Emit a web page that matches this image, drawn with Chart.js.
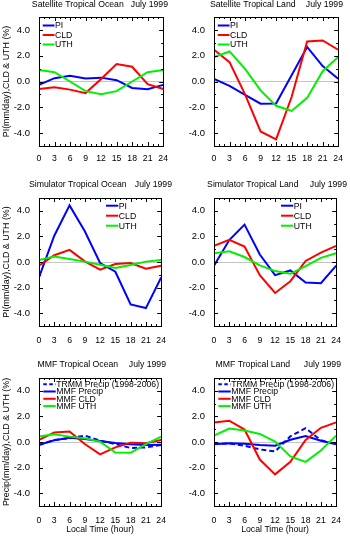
<!DOCTYPE html>
<html>
<head>
<meta charset="utf-8">
<script src="https://cdn.jsdelivr.net/npm/chart.js@4.4.1/dist/chart.umd.min.js"></script>
<style>
  html, body { margin: 0; padding: 0; background: #fff; }
  #wrap { position: relative; width: 350px; height: 537px; overflow: hidden; }
  #wrap canvas { position: absolute; }
</style>
</head>
<body>
<div id="wrap">
  <canvas id="p1" width="175" height="175" style="left:0;top:0"></canvas>
  <canvas id="p2" width="175" height="175" style="left:175px;top:0"></canvas>
  <canvas id="p3" width="175" height="180" style="left:0;top:175px"></canvas>
  <canvas id="p4" width="175" height="180" style="left:175px;top:175px"></canvas>
  <canvas id="p5" width="175" height="182" style="left:0;top:355px"></canvas>
  <canvas id="p6" width="175" height="182" style="left:175px;top:355px"></canvas>
</div>
<script>
// local time (hour)
const hours = [0, 3, 6, 9, 12, 15, 18, 21, 24];
const yTickValues = [-4, -2, 0, 2, 4];

// Satellite
const satOceanPI = [-0.26, 0.26, 0.45, 0.24, 0.3, 0.1, -0.5, -0.6, -0.26];
const satOceanCLD = [-0.58, -0.45, -0.63, -0.9, 0.2, 1.35, 1.14, -0.2, -0.58];
const satOceanUTH = [0.9, 0.72, 0.0, -0.75, -0.98, -0.75, 0.0, 0.72, 0.9];

const satLandPI = [0.21, -0.34, -1.03, -1.72, -1.7, 0.48, 2.68, 1.2, 0.21];
const satLandCLD = [2.46, 1.5, -1.0, -3.87, -4.48, -1.2, 3.1, 3.18, 2.46];
const satLandUTH = [1.9, 2.33, 0.98, -0.69, -1.88, -2.28, -1.27, 0.8, 1.9];

// Simulator
const simOceanPI = [-1.21, 2.05, 4.42, 2.4, -0.08, -0.76, -3.32, -3.6, -1.21];
const simOceanCLD = [-0.29, 0.53, 0.95, 0.05, -0.6, -0.16, -0.08, -0.53, -0.29];
const simOceanUTH = [0.16, 0.42, 0.24, 0.03, -0.21, -0.47, -0.24, 0.03, 0.16];

const simLandPI = [-0.29, 1.71, 2.92, 0.58, -1.03, -0.66, -1.6, -1.66, -0.29];
const simLandCLD = [1.26, 1.74, 1.21, -1.03, -2.42, -1.5, 0.08, 0.74, 1.26];
const simLandUTH = [0.68, 0.84, 0.39, -0.26, -0.71, -0.92, -0.32, 0.32, 0.68];

// MMF
const mmfOceanTRMM = [-0.24, 0.16, 0.29, 0.5, 0.1, -0.16, -0.47, -0.42, -0.24];
const mmfOceanPrecip = [-0.21, 0.13, 0.34, 0.24, 0.08, -0.08, -0.18, -0.24, -0.21];
const mmfOceanCLD = [0.16, 0.74, 0.82, -0.16, -0.97, -0.42, -0.05, -0.1, 0.16];
const mmfOceanUTH = [0.42, 0.6, 0.42, 0.29, 0.03, -0.82, -0.84, -0.16, 0.42];

const mmfLandTRMM = [-0.16, -0.1, -0.29, -0.58, -0.74, 0.45, 1.08, 0.13, -0.16];
const mmfLandPrecip = [-0.18, -0.1, -0.13, -0.24, -0.29, 0.18, 0.47, 0.1, -0.18];
const mmfLandCLD = [1.53, 1.66, 0.97, -1.37, -2.53, -1.55, 0.16, 1.11, 1.53];
const mmfLandUTH = [0.5, 1.05, 0.89, 0.63, 0.03, -1.13, -1.55, -0.66, 0.5];

const FONT = '"Liberation Sans", Arial, Helvetica, sans-serif';
const BLUE = '#0000ff';
const RED = '#ff0000';
const GREEN = '#00f000';

Chart.defaults.font.family = FONT;
Chart.defaults.color = '#000';

// NCL-style frame with inward tick marks
const frameTicks = {
  id: 'frameTicks',
  afterDatasetsDraw(chart) {
    const { ctx, chartArea: a, scales: { x, y } } = chart;
    ctx.save();
    ctx.strokeStyle = '#000';
    ctx.lineWidth = 1;
    ctx.beginPath();
    for (let h = 0; h <= 24; h++) {
      const px = Math.round(x.getPixelForValue(h)) + 0.5;
      const len = h % 3 === 0 ? 4 : 2;
      ctx.moveTo(px, a.bottom); ctx.lineTo(px, a.bottom - len);
      ctx.moveTo(px, a.top); ctx.lineTo(px, a.top + len);
    }
    for (let v = -5; v <= 5; v++) {
      const py = Math.round(y.getPixelForValue(v)) + 0.5;
      const len = v % 2 === 0 ? 4 : 2;
      ctx.moveTo(a.left, py); ctx.lineTo(a.left + len, py);
      ctx.moveTo(a.right, py); ctx.lineTo(a.right - len, py);
    }
    ctx.stroke();
    ctx.strokeRect(Math.round(a.left) + 0.5, Math.round(a.top) + 0.5,
      Math.round(a.right - a.left), Math.round(a.bottom - a.top));
    ctx.restore();
  },
};

const panelText = {
  id: 'panelText',
  afterDraw(chart, args, opts) {
    const { ctx } = chart;
    ctx.save();
    ctx.fillStyle = '#000';
    ctx.font = `8.7px ${FONT}`;
    ctx.textBaseline = 'middle';
    ctx.textAlign = 'center';
    ctx.fillText(opts.title, opts.titleX, opts.titleY);
    ctx.textAlign = 'right';
    ctx.fillText(opts.date, opts.dateRight, opts.titleY);

    // legend
    const lg = opts.legend;
    ctx.textAlign = 'left';
    chart.data.datasets.forEach((ds, i) => {
      const ly = lg.y + i * lg.dy;
      ctx.strokeStyle = ds.borderColor;
      ctx.lineWidth = 2;
      ctx.setLineDash(ds.borderDash ? [3.5, 2.5] : []);
      ctx.beginPath();
      ctx.moveTo(lg.x0, ly);
      ctx.lineTo(lg.x1, ly);
      ctx.stroke();
      ctx.fillText(ds.label, lg.x1 + 0.5, ly + 0.5);
    });
    ctx.restore();
  },
};

function series(label, values, color, dashed) {
  return {
    label,
    data: hours.map((h, i) => ({ x: h, y: values[i] })),
    borderColor: color,
    borderWidth: 2,
    borderDash: dashed ? [5, 3] : undefined,
    pointRadius: 0,
    tension: 0,
    fill: false,
  };
}

const rows = [
  { padTop: 17, xHeight: 29, xPad: 7, titleY: 5, dateRight: 168 },
  { padTop: 23, xHeight: 29, xPad: 9, titleY: 9.7, dateRight: 172 },
  { padTop: 23, xHeight: 31, xPad: 9, titleY: 9.7, dateRight: 166 },
];

function makePanel(id, row, cfg) {
  const r = rows[row];
  const datasets = cfg.datasets.map((d, i) => ({ ...d, order: -i }));
  new Chart(document.getElementById(id), {
    type: 'line',
    data: { datasets },
    options: {
      responsive: false,
      animation: false,
      devicePixelRatio: 1,
      layout: { padding: { top: r.padTop, right: 9, left: 0, bottom: 0 } },
      plugins: {
        legend: { display: false },
        tooltip: { enabled: false },
        panelText: {
          title: cfg.title,
          date: 'July 1999',
          titleX: 77.8,
          titleY: r.titleY,
          dateRight: r.dateRight,
          legend: cfg.legend,
        },
      },
      scales: {
        x: {
          type: 'linear',
          min: 0,
          max: 24,
          afterFit: (scale) => { scale.height = r.xHeight; },
          afterBuildTicks: (scale) => { scale.ticks = hours.map((h) => ({ value: h })); },
          grid: { display: false, drawTicks: false },
          border: { display: false },
          ticks: { font: { size: 8.7 }, padding: r.xPad, maxRotation: 0, color: '#000' },
          title: {
            display: !!cfg.xTitle,
            text: cfg.xTitle || '',
            font: { size: 8.7 },
            padding: { top: 0, bottom: 2 },
          },
        },
        y: {
          type: 'linear',
          min: -5,
          max: 5,
          afterFit: (scale) => { scale.width = 39; },
          afterBuildTicks: (scale) => { scale.ticks = yTickValues.map((v) => ({ value: v })); },
          grid: {
            drawTicks: false,
            color: (c) => (c.tick && c.tick.value === 0 ? '#c4c4c4' : 'rgba(0,0,0,0)'),
            lineWidth: 1,
          },
          border: { display: false },
          ticks: {
            font: { size: 9.5 },
            padding: 9,
            color: '#000',
            callback: (v) => Number(v).toFixed(1),
          },
          title: {
            display: !!cfg.yTitle,
            text: cfg.yTitle || '',
            font: { size: 8.9 },
            padding: { top: 1, bottom: 0 },
          },
        },
      },
    },
    plugins: [frameTicks, panelText],
  });
}

const topLegend = { x0: 42.7, x1: 54.5, y: 25.5, dy: 9.5 };
const midLegend = { x0: 106, x1: 118.3, y: 30.7, dy: 10 };
const lowLegend = { x0: 43.3, x1: 55.7, y: 29.2, dy: 7.3 };

makePanel('p1', 0, {
  title: 'Satellite Tropical Ocean',
  yTitle: 'PI(mm/day),CLD & UTH (%)',
  legend: topLegend,
  datasets: [series('PI', satOceanPI, BLUE), series('CLD', satOceanCLD, RED), series('UTH', satOceanUTH, GREEN)],
});
makePanel('p2', 0, {
  title: 'Satellite Tropical Land',
  legend: topLegend,
  datasets: [series('PI', satLandPI, BLUE), series('CLD', satLandCLD, RED), series('UTH', satLandUTH, GREEN)],
});
makePanel('p3', 1, {
  title: 'Simulator Tropical Ocean',
  yTitle: 'PI(mm/day),CLD & UTH (%)',
  legend: midLegend,
  datasets: [series('PI', simOceanPI, BLUE), series('CLD', simOceanCLD, RED), series('UTH', simOceanUTH, GREEN)],
});
makePanel('p4', 1, {
  title: 'Simulator Tropical Land',
  legend: midLegend,
  datasets: [series('PI', simLandPI, BLUE), series('CLD', simLandCLD, RED), series('UTH', simLandUTH, GREEN)],
});
makePanel('p5', 2, {
  title: 'MMF Tropical Ocean',
  yTitle: 'Precip(mm/day),CLD & UTH (%)',
  xTitle: 'Local Time (hour)',
  legend: lowLegend,
  datasets: [
    series('TRMM Precip (1998-2006)', mmfOceanTRMM, BLUE, true),
    series('MMF Precip', mmfOceanPrecip, BLUE),
    series('MMF CLD', mmfOceanCLD, RED),
    series('MMF UTH', mmfOceanUTH, GREEN),
  ],
});
makePanel('p6', 2, {
  title: 'MMF Tropical Land',
  xTitle: 'Local Time (hour)',
  legend: lowLegend,
  datasets: [
    series('TRMM Precip (1998-2006)', mmfLandTRMM, BLUE, true),
    series('MMF Precip', mmfLandPrecip, BLUE),
    series('MMF CLD', mmfLandCLD, RED),
    series('MMF UTH', mmfLandUTH, GREEN),
  ],
});
</script>
</body>
</html>
